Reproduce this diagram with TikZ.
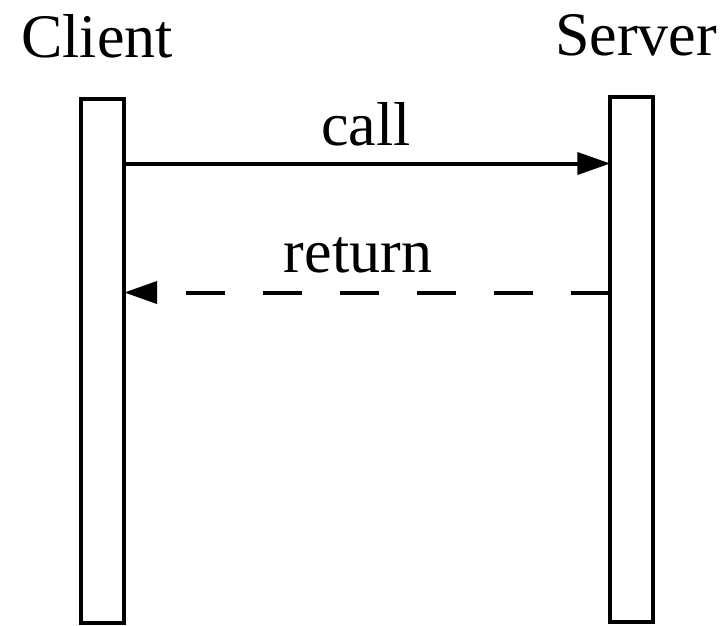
\documentclass[tikz,border=0pt]{standalone}
\usepackage{fontspec}
\setmainfont{Liberation Serif}
\usetikzlibrary{arrows.meta}
\begin{document}
\begin{tikzpicture}[x=1pt,y=1pt,
  lifeline/.style={draw, line width=4pt, rectangle, inner sep=0pt, outer sep=0pt, minimum width=43pt},
  lbl/.style={anchor=base, inner sep=0pt, font=\fontsize{62}{70}\selectfont},
  msg/.style={line width=4pt, -{Triangle[length=33pt,width=22pt]}},
  reply/.style={msg, dash pattern=on 39pt off 38pt}]
\useasboundingbox (0,0) rectangle (722,-625);
\node[lifeline, minimum height=523.5pt] (client) at (102.7,-360.75) {};
\node[lifeline, minimum height=524.5pt] (server) at (631.75,-359.25) {};
\node[lbl] (clientlbl) at (97,-57) {Client};
\node[lbl] (serverlbl) at (636,-55) {Server};
\coordinate (c1) at (client.east |- 0,-163.5);
\coordinate (s1) at (server.west |- 0,-163.5);
\coordinate (s2) at (server.west |- 0,-292.5);
\coordinate (c2) at (client.east |- 0,-292.5);
\draw[msg] (c1) -- (s1);
\draw[reply] (s2) -- (c2);
\node[lbl] (calllbl) at (366,-145) {call};
\node[lbl] (returnlbl) at (358,-272) {return};
\end{tikzpicture}
\end{document}
